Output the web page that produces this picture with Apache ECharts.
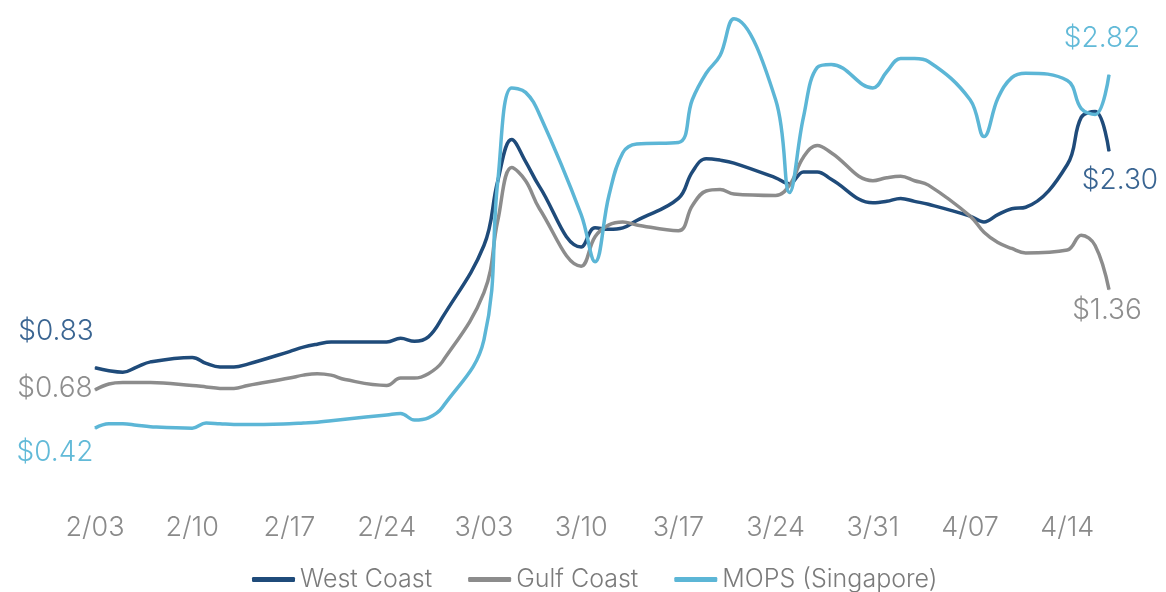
<!DOCTYPE html>
<html>
<head>
<meta charset="utf-8">
<script src="https://cdn.jsdelivr.net/npm/echarts@6/dist/echarts.min.js"></script>
<style>
  html, body { margin: 0; padding: 0; background: #fff; }
  #main { width: 1166px; height: 592px; }
</style>
</head>
<body>
<div id="main"></div>
<script>
// trading days (weekdays), 2/03 -> 4/17
const dates = [
  "2025-02-03", "2025-02-04", "2025-02-05", "2025-02-06", "2025-02-07",
  "2025-02-10", "2025-02-11", "2025-02-12", "2025-02-13", "2025-02-14",
  "2025-02-17", "2025-02-18", "2025-02-19", "2025-02-20", "2025-02-21",
  "2025-02-24", "2025-02-25", "2025-02-26", "2025-02-27", "2025-02-28",
  "2025-03-03", "2025-03-04", "2025-03-05", "2025-03-06", "2025-03-07",
  "2025-03-10", "2025-03-11", "2025-03-12", "2025-03-13", "2025-03-14",
  "2025-03-17", "2025-03-18", "2025-03-19", "2025-03-20", "2025-03-21",
  "2025-03-24", "2025-03-25", "2025-03-26", "2025-03-27", "2025-03-28",
  "2025-03-31", "2025-04-01", "2025-04-02", "2025-04-03", "2025-04-04",
  "2025-04-07", "2025-04-08", "2025-04-09", "2025-04-10", "2025-04-11",
  "2025-04-14", "2025-04-15", "2025-04-16", "2025-04-17"
];

const westCoast = [
  0.83, 0.81, 0.80, 0.835, 0.87,
  0.90, 0.86, 0.835, 0.835, 0.855,
  0.94, 0.97, 0.99, 1.005, 1.005,
  1.005, 1.03, 1.01, 1.04, 1.17,
  1.66, 2.10, 2.38, 2.23, 2.06,
  1.65, 1.78, 1.77, 1.78, 1.83,
  1.98, 2.16, 2.25, 2.24, 2.22,
  2.12, 2.08, 2.16, 2.16, 2.11,
  1.95, 1.96, 1.98, 1.96, 1.94,
  1.86, 1.82, 1.87, 1.91, 1.92,
  2.21, 2.53, 2.57, 2.30
];

const gulfCoast = [
  0.68, 0.72, 0.73, 0.73, 0.73,
  0.71, 0.70, 0.69, 0.69, 0.71,
  0.76, 0.78, 0.79, 0.78, 0.75,
  0.71, 0.76, 0.76, 0.79, 0.87,
  1.34, 1.83, 2.19, 2.10, 1.91,
  1.52, 1.72, 1.80, 1.82, 1.80,
  1.76, 1.93, 2.03, 2.04, 2.01,
  2.00, 2.07, 2.26, 2.34, 2.29,
  2.10, 2.12, 2.13, 2.10, 2.07,
  1.86, 1.75, 1.68, 1.64, 1.61,
  1.63, 1.73, 1.66, 1.36
];

const mops = [
  0.42, 0.45, 0.45, 0.44, 0.43,
  0.42, 0.455, 0.45, 0.445, 0.445,
  0.45, 0.455, 0.46, 0.47, 0.48,
  0.51, 0.52, 0.475, 0.49, 0.56,
  1.02, 2.10, 2.73, 2.70, 2.55,
  1.87, 1.55, 2.00, 2.29, 2.35,
  2.36, 2.65, 2.83, 2.95, 3.20,
  2.65, 2.02, 2.53, 2.87, 2.89,
  2.73, 2.84, 2.93, 2.93, 2.91,
  2.65, 2.40, 2.66, 2.80, 2.83,
  2.78, 2.59, 2.55, 2.82
];

const tickLabels = ["2/03", "2/10", "2/17", "2/24", "3/03", "3/10", "3/17", "3/24", "3/31", "4/07", "4/14"];

const FONT = "Inter, Lato, sans-serif";
const start = Date.parse(dates[0]);
const dayIndex = s => (Date.parse(s) - start) / 86400000;

// label offsets for first / last value of each line
const lines = [
  { name: "West Coast", values: westCoast, color: "#1f4b7a", labelColor: "#3a6592", first: [-39, -36], last: [11, 29] },
  { name: "Gulf Coast", values: gulfCoast, color: "#8c8c8c", labelColor: "#8e8e8e", first: [-40, -1], last: [-2, 21] },
  { name: "MOPS (Singapore)", values: mops, color: "#5cb6d6", labelColor: "#62bad8", first: [-40, 24], last: [-7, -36] }
];

function buildData(l) {
  return l.values.map((v, i) => {
    const item = { value: [dayIndex(dates[i]), v] };
    const isFirst = i === 0, isLast = i === l.values.length - 1;
    if (isFirst || isLast) {
      item.label = {
        show: true,
        position: "inside",
        offset: isFirst ? l.first : l.last,
        formatter: "$" + v.toFixed(2),
        color: l.labelColor,
        fontSize: 28,
        fontFamily: FONT,
        fontWeight: 300,
        align: "center",
        verticalAlign: "middle"
      };
    }
    return item;
  });
}

var chartDom = document.getElementById("main");
var myChart = echarts.init(chartDom);

const option = {
  animation: false,
  grid: { left: 95, right: 57, top: 4, bottom: 102 },
  legend: {
    left: 247,
    top: 562,
    icon: "roundRect",
    itemWidth: 43,
    itemHeight: 5,
    itemGap: 36,
    textStyle: { fontSize: 25, color: "#7b7b7b", fontFamily: FONT, fontWeight: 300 },
    data: lines.map(l => l.name)
  },
  xAxis: {
    type: "value",
    min: 0,
    max: dayIndex(dates[dates.length - 1]),
    interval: 7,
    axisLine: { show: false },
    axisTick: { show: false },
    splitLine: { show: false },
    axisLabel: {
      margin: 24,
      fontSize: 27,
      color: "#8a8a8a",
      fontFamily: FONT,
      fontWeight: 300,
      showMaxLabel: false,
      formatter: v => tickLabels[v / 7] || ""
    }
  },
  yAxis: {
    type: "value",
    min: 0,
    max: 3.3,
    show: false
  },
  series: lines.map(l => ({
    name: l.name,
    type: "line",
    smooth: 0.4,
    symbol: "circle",
    symbolSize: 1,
    showSymbol: true,
    color: l.color,
    lineStyle: { width: 3.5, color: l.color },
    itemStyle: { color: l.color },
    data: buildData(l)
  }))
};

myChart.setOption(option);
</script>
</body>
</html>
